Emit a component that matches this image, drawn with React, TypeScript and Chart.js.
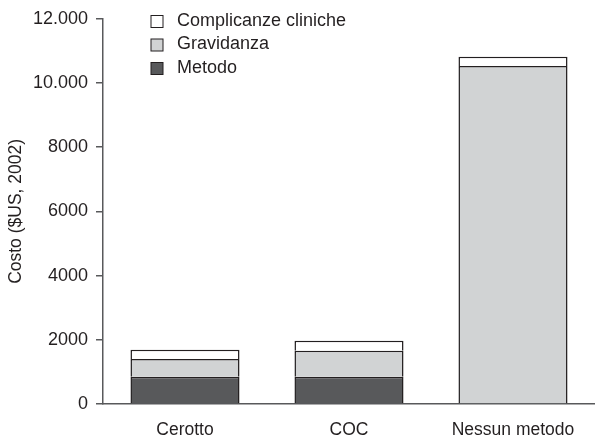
import React, { useEffect, useRef } from "react";
import { Chart, registerables } from "chart.js";

Chart.register(...registerables);

const categories = ["Cerotto", "COC", "Nessun metodo"];
const metodo = [850, 850, 0];
const gravidanza = [550, 810, 10530];
const complicanze = [290, 310, 290];
const yTicks = [0, 2000, 4000, 6000, 8000, 10000, 12000];
const legendLabels = ["Complicanze cliniche", "Gravidanza", "Metodo"];
const legendColors = ["#ffffff", "#d1d3d4", "#58595b"];

const FONT = "'Liberation Sans', Arial, Helvetica, sans-serif";
const TEXT = "#231f20";
const AXIS = "#58595b";

function fmt(v: number): string {
  if (v >= 10000) {
    const s = String(v);
    return s.slice(0, s.length - 3) + "." + s.slice(s.length - 3);
  }
  return String(v);
}

const legendPlugin = {
  id: "insideLegend",
  afterDraw(chart: any) {
    const ctx = chart.ctx;
    ctx.save();
    ctx.font = `18px ${FONT}`;
    ctx.textBaseline = "alphabetic";
    ctx.textAlign = "left";
    legendLabels.forEach((lab, i) => {
      const top = 15.5 + i * 23.5;
      ctx.fillStyle = legendColors[i];
      ctx.fillRect(151, top, 12, 12);
      ctx.strokeStyle = TEXT;
      ctx.lineWidth = 1;
      ctx.strokeRect(151, top, 12, 12);
      ctx.fillStyle = TEXT;
      ctx.fillText(lab, 177, top + 10);
    });
    ctx.restore();
  },
};

export default function App() {
  const ref = useRef<HTMLCanvasElement>(null);
  useEffect(() => {
    document.body.style.margin = "0";
    const ds = (label: string, data: number[], color: string) => ({
      label,
      data,
      backgroundColor: color,
      borderColor: TEXT,
      borderWidth: 1.5,
      borderSkipped: "start",
      barPercentage: 0.665,
      categoryPercentage: 1,
    });
    const chart = new Chart(ref.current!, {
      type: "bar",
      data: {
        labels: categories,
        datasets: [
          ds("Metodo", metodo, legendColors[2]),
          ds("Gravidanza", gravidanza, legendColors[1]),
          ds("Complicanze cliniche", complicanze, legendColors[0]),
        ],
      },
      options: {
        responsive: false,
        animation: false,
        layout: { padding: { top: 18, right: 0, left: 0, bottom: 0 } },
        plugins: { legend: { display: false }, tooltip: { enabled: false } },
        scales: {
          x: {
            stacked: true,
            grid: { display: false },
            border: { display: true, color: AXIS, width: 1.5 },
            ticks: { color: TEXT, font: { family: FONT, size: 17.5 }, padding: 8 },
            afterFit: (s: any) => { s.height = 36; },
          },
          y: {
            stacked: true,
            min: 0,
            max: 12000,
            afterBuildTicks: (s: any) => { s.ticks = yTicks.map((v) => ({ value: v })); },
            grid: { display: true, drawOnChartArea: false, drawTicks: true, tickLength: 7, color: AXIS, lineWidth: 1.5 },
            border: { display: true, color: AXIS, width: 1.5 },
            ticks: { color: TEXT, font: { family: FONT, size: 18 }, padding: 8, callback: (v: any) => fmt(Number(v)) },
            title: { display: true, text: "Costo ($US, 2002)", color: TEXT, font: { family: FONT, size: 17.5 }, padding: { top: 6, bottom: 0 } },
            afterFit: (s: any) => { s.width = 103; },
          },
        },
      },
      plugins: [legendPlugin],
    });
    return () => chart.destroy();
  }, []);
  return (
    <div style={{ position: "fixed", left: 0, top: 0, width: 595, height: 440, background: "#fff" }}>
      <canvas ref={ref} width={595} height={440} />
    </div>
  );
}
